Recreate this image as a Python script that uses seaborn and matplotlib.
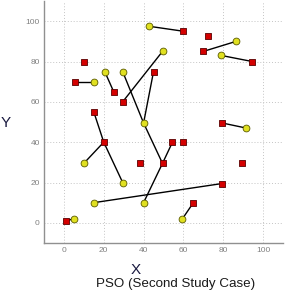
import pandas as pd
import matplotlib
matplotlib.use("Agg")
import matplotlib.pyplot as plt
import seaborn as sns

# 红色方块（簇头）
head_x = [10, 5.5, 15, 20, 25, 29.5, 45, 49.5, 54.5, 60, 38, 1, 65, 79.5, 89.5, 79.5, 60, 72.5, 70, 94.5]
head_y = [80, 70, 55, 40, 65, 60, 75, 29.5, 40, 40, 29.5, 1, 10, 19.5, 29.5, 49.5, 95, 92.5, 85, 80]

# 黄色圆点（节点）
node_x = [15, 20.5, 29.5, 40, 49.5, 42.5, 86.5, 79, 91.5, 10, 29.5, 15, 40, 59.5, 5]
node_y = [70, 75, 75, 49.5, 85, 97.5, 90, 83, 47, 29.5, 20, 10, 10, 2, 2]

# 连线：('h', i) 表示簇头, ('n', i) 表示节点
links = [
    (("h", 1), ("n", 0)),
    (("h", 2), ("h", 3)),
    (("h", 3), ("n", 9)),
    (("h", 3), ("n", 10)),
    (("n", 1), ("h", 4)),
    (("n", 2), ("n", 3)),
    (("h", 5), ("n", 4)),
    (("h", 6), ("n", 3)),
    (("n", 3), ("h", 7)),
    (("h", 7), ("h", 8)),
    (("h", 7), ("n", 12)),
    (("n", 11), ("h", 13)),
    (("h", 12), ("n", 13)),
    (("h", 11), ("n", 14)),
    (("n", 5), ("h", 16)),
    (("h", 18), ("n", 6)),
    (("n", 7), ("h", 19)),
    (("h", 15), ("n", 8)),
]

ticks = [0, 20, 40, 60, 80, 100]


def coord(p):
    kind, i = p
    if kind == "h":
        return head_x[i], head_y[i]
    return node_x[i], node_y[i]


def main():
    sns.set_style("white")
    plt.rcParams["font.family"] = ["Liberation Sans", "DejaVu Sans"]

    rows = []
    for k, (a, b) in enumerate(links):
        for p in (a, b):
            x, y = coord(p)
            rows.append({"seg": k, "x": x, "y": y})
    df_lines = pd.DataFrame(rows)
    df_head = pd.DataFrame({"x": head_x, "y": head_y})
    df_node = pd.DataFrame({"x": node_x, "y": node_y})

    fig = plt.figure(figsize=(2.85, 2.91), dpi=100)
    ax = fig.add_axes([44 / 285, 48 / 291, 239 / 285, 242 / 291])

    sns.lineplot(data=df_lines, x="x", y="y", units="seg", estimator=None, sort=False,
                 color="black", linewidth=1.0, ax=ax, zorder=2)
    sns.scatterplot(data=df_head, x="x", y="y", marker="s", s=24, color="#d40000",
                    edgecolor="#5a0000", linewidth=0.6, ax=ax, zorder=3)
    sns.scatterplot(data=df_node, x="x", y="y", marker="o", s=24, color="#e0e020",
                    edgecolor="#5a5a00", linewidth=0.6, ax=ax, zorder=3)

    ax.set_xlim(-10, 110)
    ax.set_ylim(-10, 110)
    ax.set_xticks(ticks)
    ax.set_yticks(ticks)
    ax.grid(True, linestyle=(0, (1, 2)), color="#c4c4c4", linewidth=0.7)
    ax.tick_params(labelsize=6, colors="#808080", length=2, direction="in", pad=3)
    ax.set_xlabel("")
    ax.set_ylabel("")
    for side in ["top", "right"]:
        ax.spines[side].set_visible(False)
    for side in ["left", "bottom"]:
        ax.spines[side].set_color("#909090")
        ax.spines[side].set_linewidth(1.0)

    fig.text(136 / 285, 1 - 270 / 291, "X", fontsize=11, color="#1a1a40",
             ha="center", va="center")
    fig.text(6 / 285, 1 - 123 / 291, "Y", fontsize=11, color="#1a1a40",
             ha="center", va="center")
    fig.text(176 / 285, 3.5 / 291, "PSO (Second Study Case)", fontsize=9.6,
             color="#1a1a1a", ha="center", va="baseline")

    plt.savefig("out.png", dpi=100)


if __name__ == "__main__":
    main()
